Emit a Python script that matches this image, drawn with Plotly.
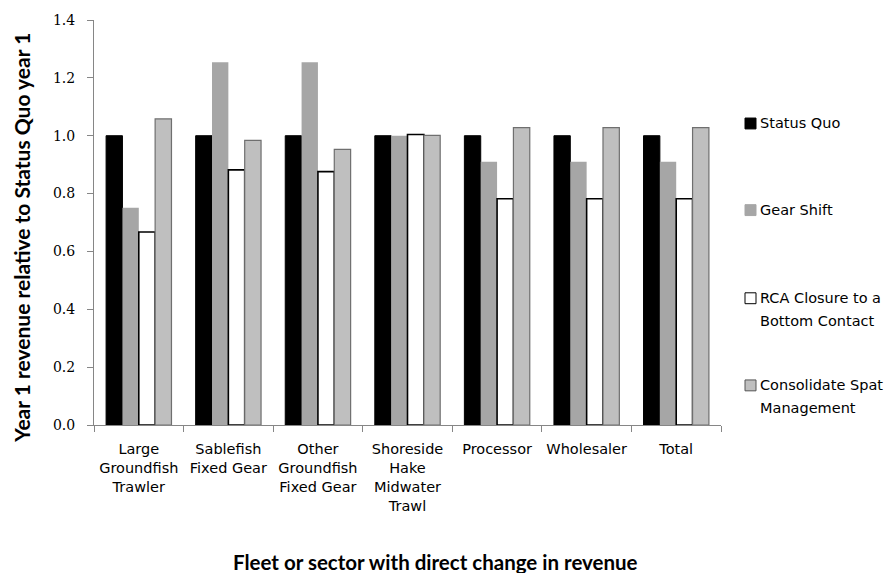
import plotly.graph_objects as go

# Fleets / sectors along the x axis
categories = [
    "Large<br>Groundfish<br>Trawler",
    "Sablefish<br>Fixed Gear",
    "Other<br>Groundfish<br>Fixed Gear",
    "Shoreside<br>Hake<br>Midwater<br>Trawl",
    "Processor",
    "Wholesaler",
    "Total",
]

# Year 1 revenue relative to Status Quo year 1, by alternative
status_quo = [1.0, 1.0, 1.0, 1.0, 1.0, 1.0, 1.0]
gear_shift = [0.751, 1.254, 1.254, 1.0, 0.91, 0.91, 0.91]
rca_closure = [0.667, 0.882, 0.876, 1.004, 0.782, 0.782, 0.782]
consolidate = [1.058, 0.984, 0.953, 1.001, 1.028, 1.028, 1.028]

y_ticks = [0.0, 0.2, 0.4, 0.6, 0.8, 1.0, 1.2, 1.4]

series = [
    ("Status Quo", status_quo, "#000000", "#000000", 1),
    ("Gear Shift", gear_shift, "#a6a6a6", "#a6a6a6", 0),
    ("RCA Closure to a Bottom Contact", rca_closure, "#ffffff", "#000000", 1.6),
    ("Consolidate Spat Management", consolidate, "#bfbfbf", "#6f6f6f", 1.2),
]

fig = go.Figure()
for name, vals, fill, line, lw in series:
    fig.add_trace(go.Bar(
        x=categories, y=vals, name=name,
        marker=dict(color=fill, line=dict(color=line, width=lw)),
        showlegend=False,
    ))

W, H = 885, 573
L, R, T, B = 94, 164, 16, 148
pw, ph = W - L - R, H - T - B

def px(xp):
    return (xp - L) / pw

def py(yp):
    return (H - B - yp) / ph

fig.update_layout(
    width=W, height=H,
    margin=dict(l=L, r=R, t=T, b=B),
    paper_bgcolor="white", plot_bgcolor="white",
    barmode="group", bargap=0.27, bargroupgap=0,
    font=dict(family="DejaVu Sans, sans-serif", color="#000000"),
)

fig.update_xaxes(
    showline=True, linecolor="#868686", linewidth=1,
    ticks="outside", tickson="boundaries", ticklen=6, tickcolor="#868686",
    ticklabelstandoff=11, tickangle=0,
    tickfont=dict(size=14.5, family="DejaVu Sans, sans-serif", color="#000000"),
    showgrid=False,
)
fig.update_yaxes(
    range=[0, 1.4], tickvals=y_ticks,
    ticktext=[f"{v:.1f}" for v in y_ticks],
    showline=True, linecolor="#868686", linewidth=1,
    ticks="outside", ticklen=6, tickcolor="#868686",
    ticklabelstandoff=9,
    tickfont=dict(size=14, family="DejaVu Serif, serif", color="#000000"),
    showgrid=False, zeroline=False,
)

# Axis titles
fig.add_annotation(
    text="<b>Year 1 revenue relative to Status Quo year 1</b>",
    xref="paper", yref="paper", x=px(22), y=py(236),
    textangle=-90, showarrow=False, xanchor="center", yanchor="middle",
    font=dict(size=21, family="Lato, sans-serif"),
)
fig.add_annotation(
    text="<b>Fleet or sector with direct change in revenue</b>",
    xref="paper", yref="paper", x=px(435), y=py(563),
    showarrow=False, xanchor="center", yanchor="middle",
    font=dict(size=20.5, family="Lato, sans-serif"),
)

# Legend drawn at the right of the plot
legend_items = [
    ("Status Quo", "#000000", "#000000", [120.5]),
    ("Gear Shift", "#a6a6a6", "#a6a6a6", [208]),
    ("RCA Closure to a|Bottom Contact", "#ffffff", "#000000", [297, 320]),
    ("Consolidate Spat|Management", "#bfbfbf", "#555555", [385, 408]),
]
for label, fill, line, ys in legend_items:
    y0 = ys[0]
    fig.add_shape(
        type="rect", xref="paper", yref="paper",
        x0=px(745), x1=px(756), y0=py(y0 + 5.5), y1=py(y0 - 5.5),
        fillcolor=fill, line=dict(color=line, width=1),
    )
    for text, yy in zip(label.split("|"), ys):
        fig.add_annotation(
            text=text, xref="paper", yref="paper", x=px(758), y=py(yy),
            showarrow=False, xanchor="left", yanchor="middle",
            font=dict(size=14.5, family="DejaVu Sans, sans-serif"),
        )

fig.write_html("out.html")
